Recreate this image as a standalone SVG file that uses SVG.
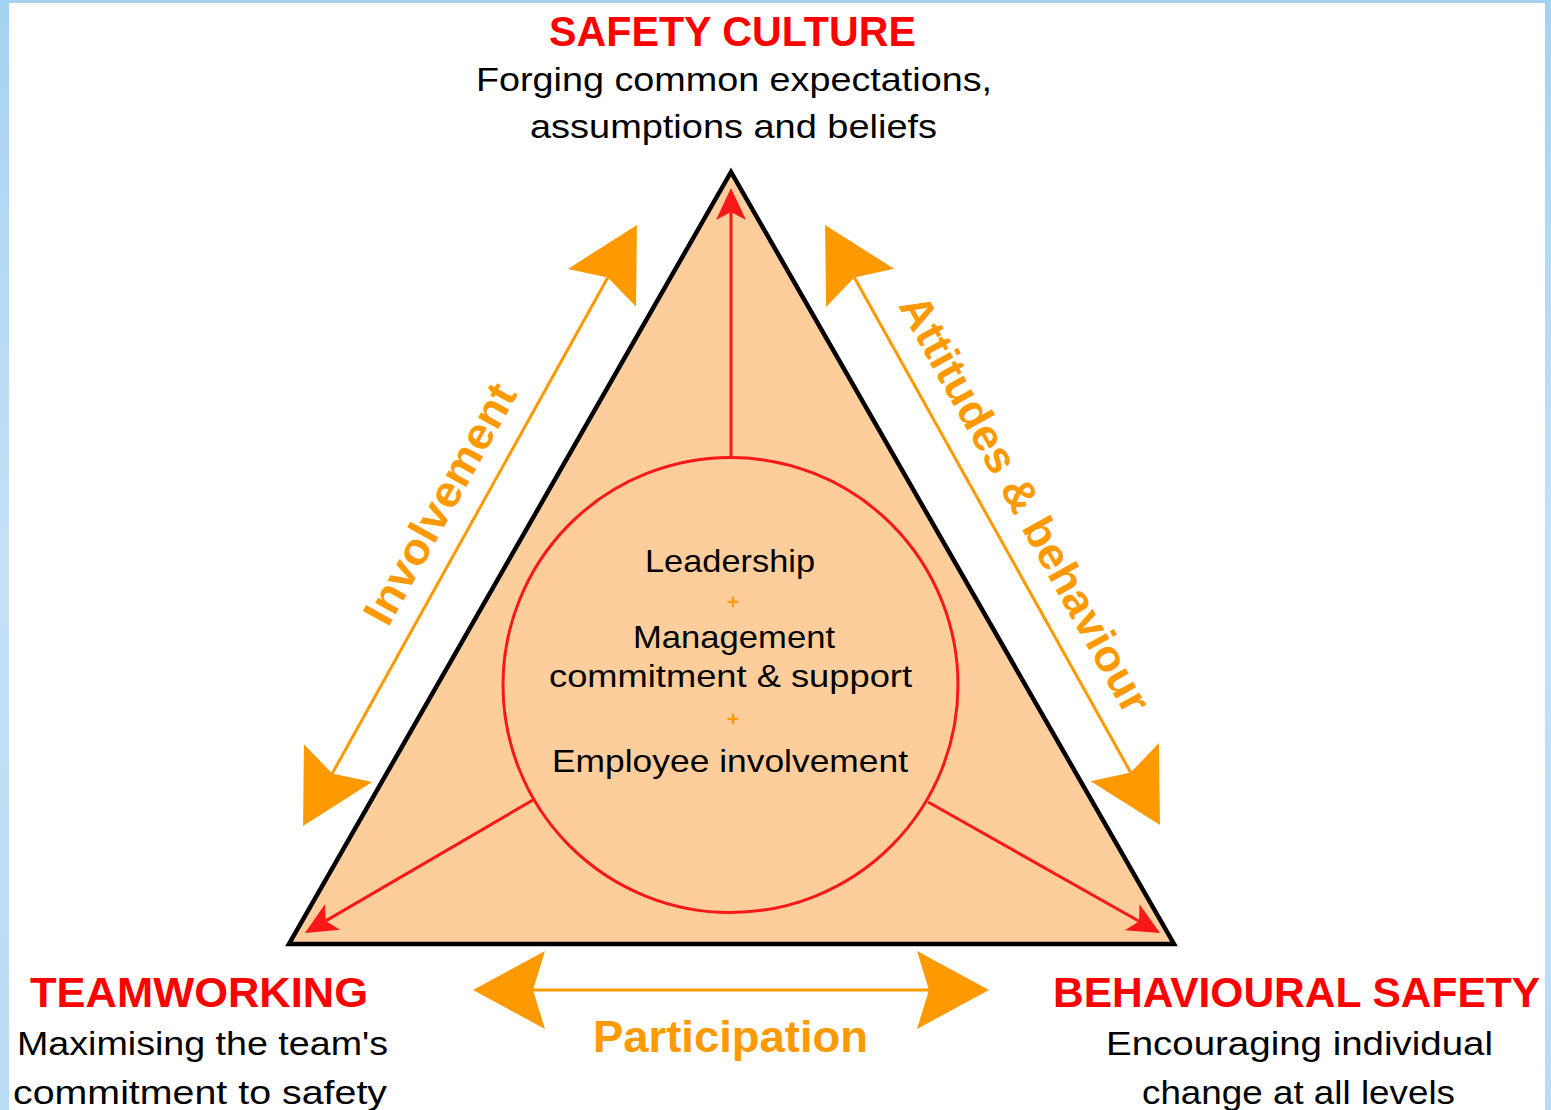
<svg xmlns="http://www.w3.org/2000/svg" width="1551" height="1110" viewBox="0 0 1551 1110">
<style>
  text { font-family: "Liberation Sans", Arial, sans-serif; }
  .hd { font-weight: bold; font-size: 43px; fill: #FF0000; }
  .sub { font-size: 34px; fill: #000000; }
  .ctr { font-size: 32px; fill: #000000; }
  .org { font-weight: bold; font-size: 44px; fill: #FF9900; }
  .plus { font-weight: bold; font-size: 20px; fill: #FF9900; }
  .oline { stroke: #FF9900; stroke-width: 3; fill: none; }
  .rline { stroke: #F81818; stroke-width: 3; fill: none; }
</style>
<defs>
  <linearGradient id="bg" x1="0" y1="0" x2="0" y2="1">
    <stop offset="0" stop-color="#A6D2F2"/>
    <stop offset="0.5" stop-color="#C4E1F7"/>
    <stop offset="1" stop-color="#B9DCF5"/>
  </linearGradient>
  <marker id="oh" markerUnits="userSpaceOnUse" viewBox="-14 -41 76 82" markerWidth="76" markerHeight="82" refX="0" refY="0" orient="auto-start-reverse">
    <path d="M60,0 L-12,-39 L0,0 L-12,39 Z" fill="#FF9900"/>
  </marker>
  <marker id="rh" markerUnits="userSpaceOnUse" viewBox="-10 -17 36 34" markerWidth="36" markerHeight="34" refX="0" refY="0" orient="auto">
    <path d="M24,0 L-8,-15 L0,0 L-8,15 Z" fill="#F81818"/>
  </marker>
</defs>

<rect x="0" y="0" width="1551" height="1110" fill="url(#bg)"/>
<rect x="9" y="3" width="1536" height="1107" fill="#FFFFFF"/>

<g id="triangle">
  <polygon points="731,172 289,944 1174,944" fill="#FDCE9C" stroke="#000000" stroke-width="4.5" stroke-linejoin="miter"/>
</g>

<g id="core">
  <circle cx="730.5" cy="685" r="227.5" fill="none" stroke="#F81818" stroke-width="3"/>
  <text class="ctr" x="645" y="572" textLength="170" lengthAdjust="spacingAndGlyphs">Leadership</text>
  <text class="plus" x="733" y="609" text-anchor="middle">+</text>
  <text class="ctr" x="633" y="648" textLength="202" lengthAdjust="spacingAndGlyphs">Management</text>
  <text class="ctr" x="549" y="687" textLength="363" lengthAdjust="spacingAndGlyphs">commitment &amp; support</text>
  <text class="plus" x="733" y="726" text-anchor="middle">+</text>
  <text class="ctr" x="552" y="772" textLength="356" lengthAdjust="spacingAndGlyphs">Employee involvement</text>
</g>

<g id="safety-culture">
  <text class="hd" x="732.5" y="46" text-anchor="middle" textLength="367" lengthAdjust="spacingAndGlyphs">SAFETY CULTURE</text>
  <text class="sub" x="734" y="91" text-anchor="middle" textLength="516" lengthAdjust="spacingAndGlyphs">Forging common expectations,</text>
  <text class="sub" x="733.5" y="138" text-anchor="middle" textLength="407" lengthAdjust="spacingAndGlyphs">assumptions and beliefs</text>
</g>

<g id="teamworking">
  <text class="hd" x="30" y="1007" textLength="338" lengthAdjust="spacingAndGlyphs">TEAMWORKING</text>
  <text class="sub" x="17" y="1055" textLength="371" lengthAdjust="spacingAndGlyphs">Maximising the team's</text>
  <text class="sub" x="13" y="1104" textLength="374" lengthAdjust="spacingAndGlyphs">commitment to safety</text>
</g>

<g id="behavioural-safety">
  <text class="hd" x="1053" y="1007" textLength="487" lengthAdjust="spacingAndGlyphs">BEHAVIOURAL SAFETY</text>
  <text class="sub" x="1106" y="1055" textLength="387" lengthAdjust="spacingAndGlyphs">Encouraging individual</text>
  <text class="sub" x="1142" y="1104" textLength="313" lengthAdjust="spacingAndGlyphs">change at all levels</text>
</g>

<g id="connectors">
  <line class="rline" x1="731" y1="457" x2="731" y2="212" marker-end="url(#rh)"/>
  <line class="rline" x1="533" y1="800" x2="325.7" y2="920.9" marker-end="url(#rh)"/>
  <line class="rline" x1="928" y1="802" x2="1139.1" y2="921.2" marker-end="url(#rh)"/>
  <line class="oline" x1="332.2" y1="773.6" x2="607.8" y2="277.4" marker-start="url(#oh)" marker-end="url(#oh)"/>
  <line class="oline" x1="854.3" y1="277.4" x2="1130.7" y2="772.6" marker-start="url(#oh)" marker-end="url(#oh)"/>
  <line class="oline" x1="533" y1="990" x2="929" y2="990" marker-start="url(#oh)" marker-end="url(#oh)"/>
  <text class="org" transform="translate(453,511) rotate(-61)" text-anchor="middle" textLength="268" lengthAdjust="spacingAndGlyphs">Involvement</text>
  <text class="org" transform="translate(1012,511) rotate(61)" text-anchor="middle" textLength="470" lengthAdjust="spacingAndGlyphs">Attitudes &amp; behaviour</text>
  <text class="org" x="593" y="1052" textLength="275" lengthAdjust="spacingAndGlyphs">Participation</text>
</g>
</svg>
